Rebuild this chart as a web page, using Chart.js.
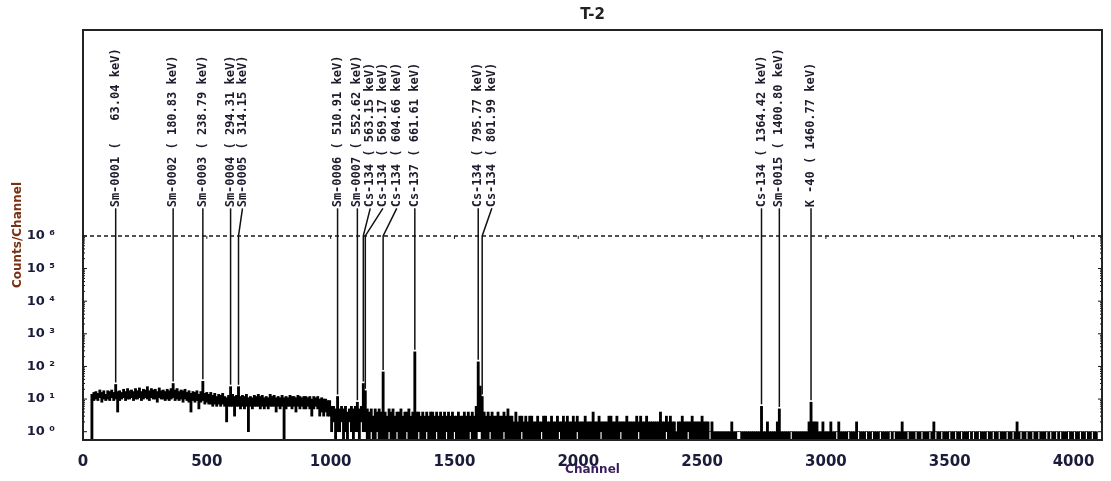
<!DOCTYPE html>
<html>
<head>
<meta charset="utf-8">
<title>T-2</title>
<script src="https://cdn.jsdelivr.net/npm/chart.js@4.4.1/dist/chart.umd.min.js"></script>
<style>
  html, body { margin: 0; padding: 0; background: #fff; }
  #wrap { width: 1111px; height: 481px; position: relative; }
</style>
</head>
<body>
<div id="wrap"><canvas id="spectrum"></canvas></div>
<script>
// Spectrum in bins of 8 channels:
// highest and lowest count seen inside each bin (0 = empty channel)
const binWidth = 8;
const hiA = [
  0, 0, 0, 0, 14, 16, 17, 15,
  19, 16, 18, 14, 18, 17, 19, 16,
  28, 17, 18, 16, 20, 17, 21, 18,
  19, 17, 21, 18, 22, 17, 20, 19,
  24, 18, 21, 19, 20, 17, 22, 18,
  19, 17, 20, 18, 21, 30, 19, 21,
  17, 19, 18, 20, 16, 18, 15, 17,
  16, 18, 14, 17, 35, 15, 16, 14
];
const loA = [
  0, 0, 0, 0, 0, 9, 10, 9,
  11, 8, 10, 9, 10, 9, 11, 9,
  10, 4, 9, 10, 11, 9, 10, 10,
  11, 9, 10, 10, 11, 9, 10, 11,
  10, 9, 11, 10, 10, 8, 11, 10,
  10, 9, 10, 9, 10, 11, 9, 10,
  9, 10, 8, 10, 9, 8, 4, 9,
  8, 9, 5, 8, 9, 7, 8, 7
];
const hiB = [
  16, 13, 15, 12, 14, 13, 15, 12,
  11, 13, 24, 14, 12, 13, 24, 12,
  13, 12, 14, 11, 12, 11, 13, 12,
  14, 12, 13, 11, 12, 11, 14, 12,
  13, 11, 12, 11, 13, 11, 12, 11,
  13, 12, 12, 11, 13, 12, 11, 12,
  12, 11, 12, 10, 12, 11, 12, 10,
  11, 10, 10, 9, 9, 6, 6, 5
];
const loB = [
  7, 6, 7, 6, 7, 6, 7, 6,
  2, 6, 6, 6, 3, 6, 6, 5,
  6, 5, 6, 1, 6, 5, 6, 6,
  6, 5, 6, 5, 6, 5, 6, 6,
  6, 4, 6, 5, 6, 0, 5, 6,
  6, 5, 6, 4, 6, 5, 6, 5,
  5, 6, 5, 3, 5, 6, 5, 3,
  4, 3, 4, 3, 3, 1, 2, 0
];
const hiC = [
  12, 5, 6, 5, 6, 4, 5, 6,
  5, 6, 8, 5, 6, 30, 18, 5,
  4, 5, 3, 5, 4, 5, 4, 68,
  4, 3, 5, 4, 5, 3, 4, 4,
  5, 3, 4, 4, 5, 3, 4, 280,
  4, 4, 3, 4, 3, 4, 3, 4,
  4, 3, 4, 3, 4, 3, 4, 3,
  4, 3, 4, 3, 3, 4, 3, 3
];
const loC = [
  1, 1, 2, 0, 1, 0, 2, 1,
  0, 1, 1, 0, 2, 1, 1, 0,
  0, 1, 0, 0, 1, 0, 0, 0,
  0, 0, 1, 0, 0, 0, 1, 0,
  0, 0, 0, 1, 0, 0, 0, 0,
  0, 1, 0, 0, 0, 1, 0, 0,
  0, 0, 1, 0, 0, 0, 0, 1,
  0, 0, 0, 1, 0, 0, 0, 0
];
const hiD = [
  4, 3, 4, 3, 4, 3, 6, 138,
  25, 12, 4, 3, 4, 3, 4, 3,
  3, 4, 3, 3, 4, 3, 5, 3,
  3, 2, 4, 2, 3, 3, 2, 3,
  2, 3, 3, 2, 2, 3, 2, 2,
  3, 3, 2, 2, 3, 2, 2, 3,
  2, 2, 3, 2, 3, 2, 2, 3,
  2, 3, 2, 2, 2, 3, 2, 2
];
const loD = [
  0, 0, 0, 1, 0, 0, 0, 1,
  1, 0, 0, 0, 0, 1, 0, 0,
  0, 0, 0, 0, 1, 0, 0, 0,
  0, 0, 0, 0, 0, 1, 0, 0,
  0, 0, 0, 0, 0, 0, 0, 1,
  0, 0, 0, 0, 0, 0, 0, 0,
  1, 0, 0, 0, 0, 0, 0, 0,
  0, 1, 0, 0, 0, 0, 0, 0
];
const hiE = [
  2, 4, 2, 2, 3, 2, 2, 2,
  2, 3, 3, 2, 2, 3, 2, 2,
  2, 2, 3, 2, 2, 2, 2, 3,
  2, 3, 2, 2, 3, 2, 2, 2,
  2, 2, 2, 4, 2, 2, 3, 2,
  3, 2, 2, 1, 2, 2, 3, 2,
  2, 2, 2, 3, 2, 2, 2, 2,
  3, 2, 2, 2, 1, 2, 1, 1
];
const loE = [
  0, 0, 0, 0, 0, 1, 0, 0,
  0, 0, 0, 0, 0, 0, 0, 1,
  0, 0, 0, 0, 0, 0, 0, 0,
  1, 0, 0, 0, 0, 0, 0, 0,
  0, 0, 0, 0, 0, 0, 1, 0,
  0, 0, 0, 0, 0, 0, 0, 0,
  0, 1, 0, 0, 0, 0, 0, 0,
  0, 0, 0, 0, 1, 0, 0, 0
];
const hiF = [
  1, 1, 1, 1, 1, 1, 1, 2,
  1, 1, 1, 1, 1, 1, 1, 1,
  1, 1, 1, 1, 1, 1, 6, 1,
  1, 2, 1, 1, 1, 1, 2, 5,
  1, 1, 1, 1, 1, 1, 1, 1,
  1, 1, 1, 1, 1, 1, 2, 8,
  2, 2, 2, 1, 1, 2, 1, 1,
  1, 2, 1, 1, 1, 2, 1, 1
];
const loF = [
  0, 0, 0, 0, 0, 0, 0, 0,
  0, 0, 1, 1, 0, 0, 0, 0,
  0, 0, 0, 0, 0, 0, 0, 0,
  0, 0, 0, 0, 0, 0, 0, 0,
  0, 0, 0, 0, 0, 1, 0, 0,
  0, 0, 0, 0, 0, 0, 0, 0,
  0, 0, 0, 0, 0, 0, 0, 0,
  0, 0, 0, 0, 1, 0, 0, 0
];
const hiG = [
  1, 1, 1, 1, 1, 1, 2, 1,
  1, 1, 1, 1, 1, 1, 1, 1,
  1, 1, 1, 1, 1, 1, 1, 1,
  1, 1, 1, 1, 1, 2, 1, 1,
  1, 1, 1, 1, 1, 1, 1, 1,
  1, 1, 1, 1, 1, 2, 1, 1,
  1, 1, 1, 1, 1, 1, 1, 1,
  1, 1, 1, 1, 1, 1, 1, 1
];
const loG = [
  0, 0, 1, 0, 0, 0, 0, 1,
  0, 0, 0, 1, 0, 0, 1, 0,
  0, 0, 1, 0, 0, 0, 0, 1,
  0, 1, 0, 0, 0, 0, 0, 0,
  1, 0, 0, 0, 1, 0, 0, 1,
  0, 0, 0, 1, 0, 0, 1, 0,
  0, 1, 0, 0, 0, 1, 0, 0,
  1, 0, 0, 1, 0, 0, 0, 1
];
const hiH = [
  1, 1, 1, 1, 1, 1, 1, 1,
  1, 1, 1, 1, 1, 1, 1, 1,
  1, 1, 1, 1, 1, 1, 1, 2,
  1, 1, 1, 1, 1, 1, 1, 1,
  1, 1, 1, 1, 1, 1, 1, 1,
  1, 1, 1, 1, 1, 1, 1, 1,
  1, 1, 1, 1, 1, 1, 1, 1,
  1, 1, 1, 1, 1, 1, 1, 1
];
const loH = [
  0, 1, 0, 0, 1, 0, 0, 0,
  1, 0, 0, 1, 0, 0, 1, 0,
  0, 0, 1, 0, 0, 1, 0, 0,
  0, 1, 0, 0, 1, 0, 0, 1,
  0, 0, 1, 0, 0, 0, 1, 0,
  1, 0, 0, 1, 0, 1, 0, 0,
  0, 1, 0, 0, 1, 0, 0, 1,
  0, 0, 1, 0, 0, 1, 0, 0
];
const countsHi = [].concat(hiA, hiB, hiC, hiD, hiE, hiF, hiG, hiH);
const countsLo = [].concat(loA, loB, loC, loD, loE, loF, loG, loH);

// Peak markers: channel of the peak, channel where its label sits, label text
const markerChannels = [128, 360, 480, 592, 624, 1024, 1104, 1128, 1136, 1208, 1336, 1592, 1608, 2736, 2808, 2936];
const labelChannels  = [128, 360, 480, 592, 644, 1024, 1104, 1160, 1211, 1267, 1336, 1592, 1651, 2736, 2808, 2936];
const markerLabels = [
  'Sm-0001 (   63.04 keV)',
  'Sm-0002 ( 180.83 keV)',
  'Sm-0003 ( 238.79 keV)',
  'Sm-0004 ( 294.31 keV)',
  'Sm-0005 ( 314.15 keV)',
  'Sm-0006 ( 510.91 keV)',
  'Sm-0007 ( 552.62 keV)',
  'Cs-134 ( 563.15 keV)',
  'Cs-134 ( 569.17 keV)',
  'Cs-134 ( 604.66 keV)',
  'Cs-137 ( 661.61 keV)',
  'Cs-134 ( 795.77 keV)',
  'Cs-134 ( 801.99 keV)',
  'Cs-134 ( 1364.42 keV)',
  'Sm-0015 ( 1400.80 keV)',
  'K -40 ( 1460.77 keV)'
];

const xTicks = [0, 500, 1000, 1500, 2000, 2500, 3000, 3500, 4000];
const yTicks = [1, 10, 100, 1000, 10000, 100000, 1000000];
const supers = ['\u2070', '\u00b9', '\u00b2', '\u00b3', '\u2074', '\u2075', '\u2076'];

const xMin = 0, xMax = 4115;
const yMin = 0.557, yMax = 2.04e12;
const refLevel = 1e6;    // dashed line
const labelFloor = 7e6;  // labels start here

// empty channels sit below the axis floor so their bars reach the bottom
const floorOf = c => (c > 0 ? c : yMin / 2);
const bars = countsHi.map((h, i) => ({ x: i * binWidth + binWidth / 2, y: [floorOf(countsLo[i]), floorOf(h)] }));

// dashed line, peak markers with labels, frame and axis tick marks
const markerPlugin = {
  id: 'markers',
  afterDatasetsDraw(chart) {
    const { ctx, chartArea: a, scales: { x, y } } = chart;
    ctx.save();

    const yRef = y.getPixelForValue(refLevel);
    ctx.strokeStyle = '#1a1a1a';
    ctx.lineWidth = 1.5;
    ctx.setLineDash([4, 3]);
    ctx.beginPath();
    ctx.moveTo(a.left, yRef);
    ctx.lineTo(a.right, yRef);
    ctx.stroke();
    ctx.setLineDash([]);

    ctx.lineWidth = 1;
    xTicks.forEach(v => {
      const px = x.getPixelForValue(v);
      ctx.beginPath();
      ctx.moveTo(px, yRef);
      ctx.lineTo(px, yRef + 3);
      ctx.stroke();
    });

    const yTop = y.getPixelForValue(labelFloor);
    ctx.strokeStyle = '#111';
    ctx.lineWidth = 1.5;
    ctx.font = 'bold 12px "DejaVu Sans Mono"';
    ctx.fillStyle = '#1c1c2c';
    ctx.textAlign = 'left';
    ctx.textBaseline = 'middle';
    markerChannels.forEach((ch, i) => {
      const bin = Math.floor(ch / binWidth);
      const x0 = x.getPixelForValue(bin * binWidth + binWidth / 2);
      const xl = labelChannels[i] === ch ? x0 : x.getPixelForValue(labelChannels[i]);
      const yb = y.getPixelForValue(countsHi[bin]) - 2;
      ctx.beginPath();
      ctx.moveTo(x0, yb);
      ctx.lineTo(x0, yRef);
      ctx.lineTo(xl, yTop);
      ctx.stroke();
      ctx.save();
      ctx.translate(xl, yTop - 1);
      ctx.rotate(-Math.PI / 2);
      ctx.fillText(markerLabels[i], 0, 0);
      ctx.restore();
    });

    // tick marks on left and right edges
    ctx.strokeStyle = '#111';
    ctx.lineWidth = 1;
    yTicks.forEach((v, k) => {
      const py = y.getPixelForValue(v);
      ctx.beginPath();
      ctx.moveTo(a.left, py); ctx.lineTo(a.left + 4, py);
      ctx.moveTo(a.right, py); ctx.lineTo(a.right - 4, py);
      ctx.stroke();
      if (k < yTicks.length - 1) {
        for (let m = 2; m <= 9; m++) {
          const pm = y.getPixelForValue(v * m);
          ctx.beginPath();
          ctx.moveTo(a.left, pm); ctx.lineTo(a.left + 2, pm);
          ctx.moveTo(a.right, pm); ctx.lineTo(a.right - 2, pm);
          ctx.stroke();
        }
      }
    });

    ctx.strokeStyle = '#222';
    ctx.lineWidth = 2;
    ctx.strokeRect(a.left, a.top, a.right - a.left, a.bottom - a.top);
    ctx.restore();
  }
};

Chart.defaults.font.family = '"DejaVu Sans", sans-serif';

new Chart(document.getElementById('spectrum'), {
  type: 'bar',
  data: {
    datasets: [{
      data: bars,
      backgroundColor: '#000',
      borderWidth: 0,
      barThickness: 2.2,
      grouped: false
    }]
  },
  options: {
    responsive: true,
    maintainAspectRatio: false,
    animation: false,
    layout: { padding: { left: 0, right: 9, top: 0, bottom: 0 } },
    plugins: {
      legend: { display: false },
      tooltip: { enabled: false },
      title: {
        display: true,
        text: 'T-2',
        fullSize: false,
        color: '#222',
        font: { size: 15, weight: 'bold' },
        padding: { top: 6, bottom: 6 }
      }
    },
    scales: {
      x: {
        type: 'linear',
        min: xMin,
        max: xMax,
        offset: false,
        grid: { display: false, offset: false },
        border: { display: false },
        afterFit: s => { s.height = 41; },
        afterBuildTicks: s => { s.ticks = xTicks.map(v => ({ value: v })); },
        ticks: {
          padding: 5,
          color: '#1b1b3b',
          maxRotation: 0,
          autoSkip: false,
          font: { size: 15, weight: 'bold' },
          callback: v => String(v)
        },
        title: {
          display: true,
          text: 'Channel',
          color: '#3b1d5e',
          font: { size: 12, weight: 'bold' },
          padding: { top: 0, bottom: 4 }
        }
      },
      y: {
        type: 'logarithmic',
        min: yMin,
        max: yMax,
        grid: { display: false },
        border: { display: false },
        afterFit: s => { s.width = 83; },
        afterBuildTicks: s => { s.ticks = yTicks.map(v => ({ value: v })); },
        ticks: {
          padding: 20,
          color: '#1b1b3b',
          font: { size: 13, weight: 'bold' },
          callback: v => '10 ' + supers[Math.round(Math.log10(v))]
        },
        title: {
          display: true,
          text: 'Counts/Channel',
          color: '#7b3012',
          font: { size: 12, weight: 'bold' },
          padding: { top: 11, bottom: 0 }
        }
      }
    }
  },
  plugins: [markerPlugin]
});
</script>
</body>
</html>
